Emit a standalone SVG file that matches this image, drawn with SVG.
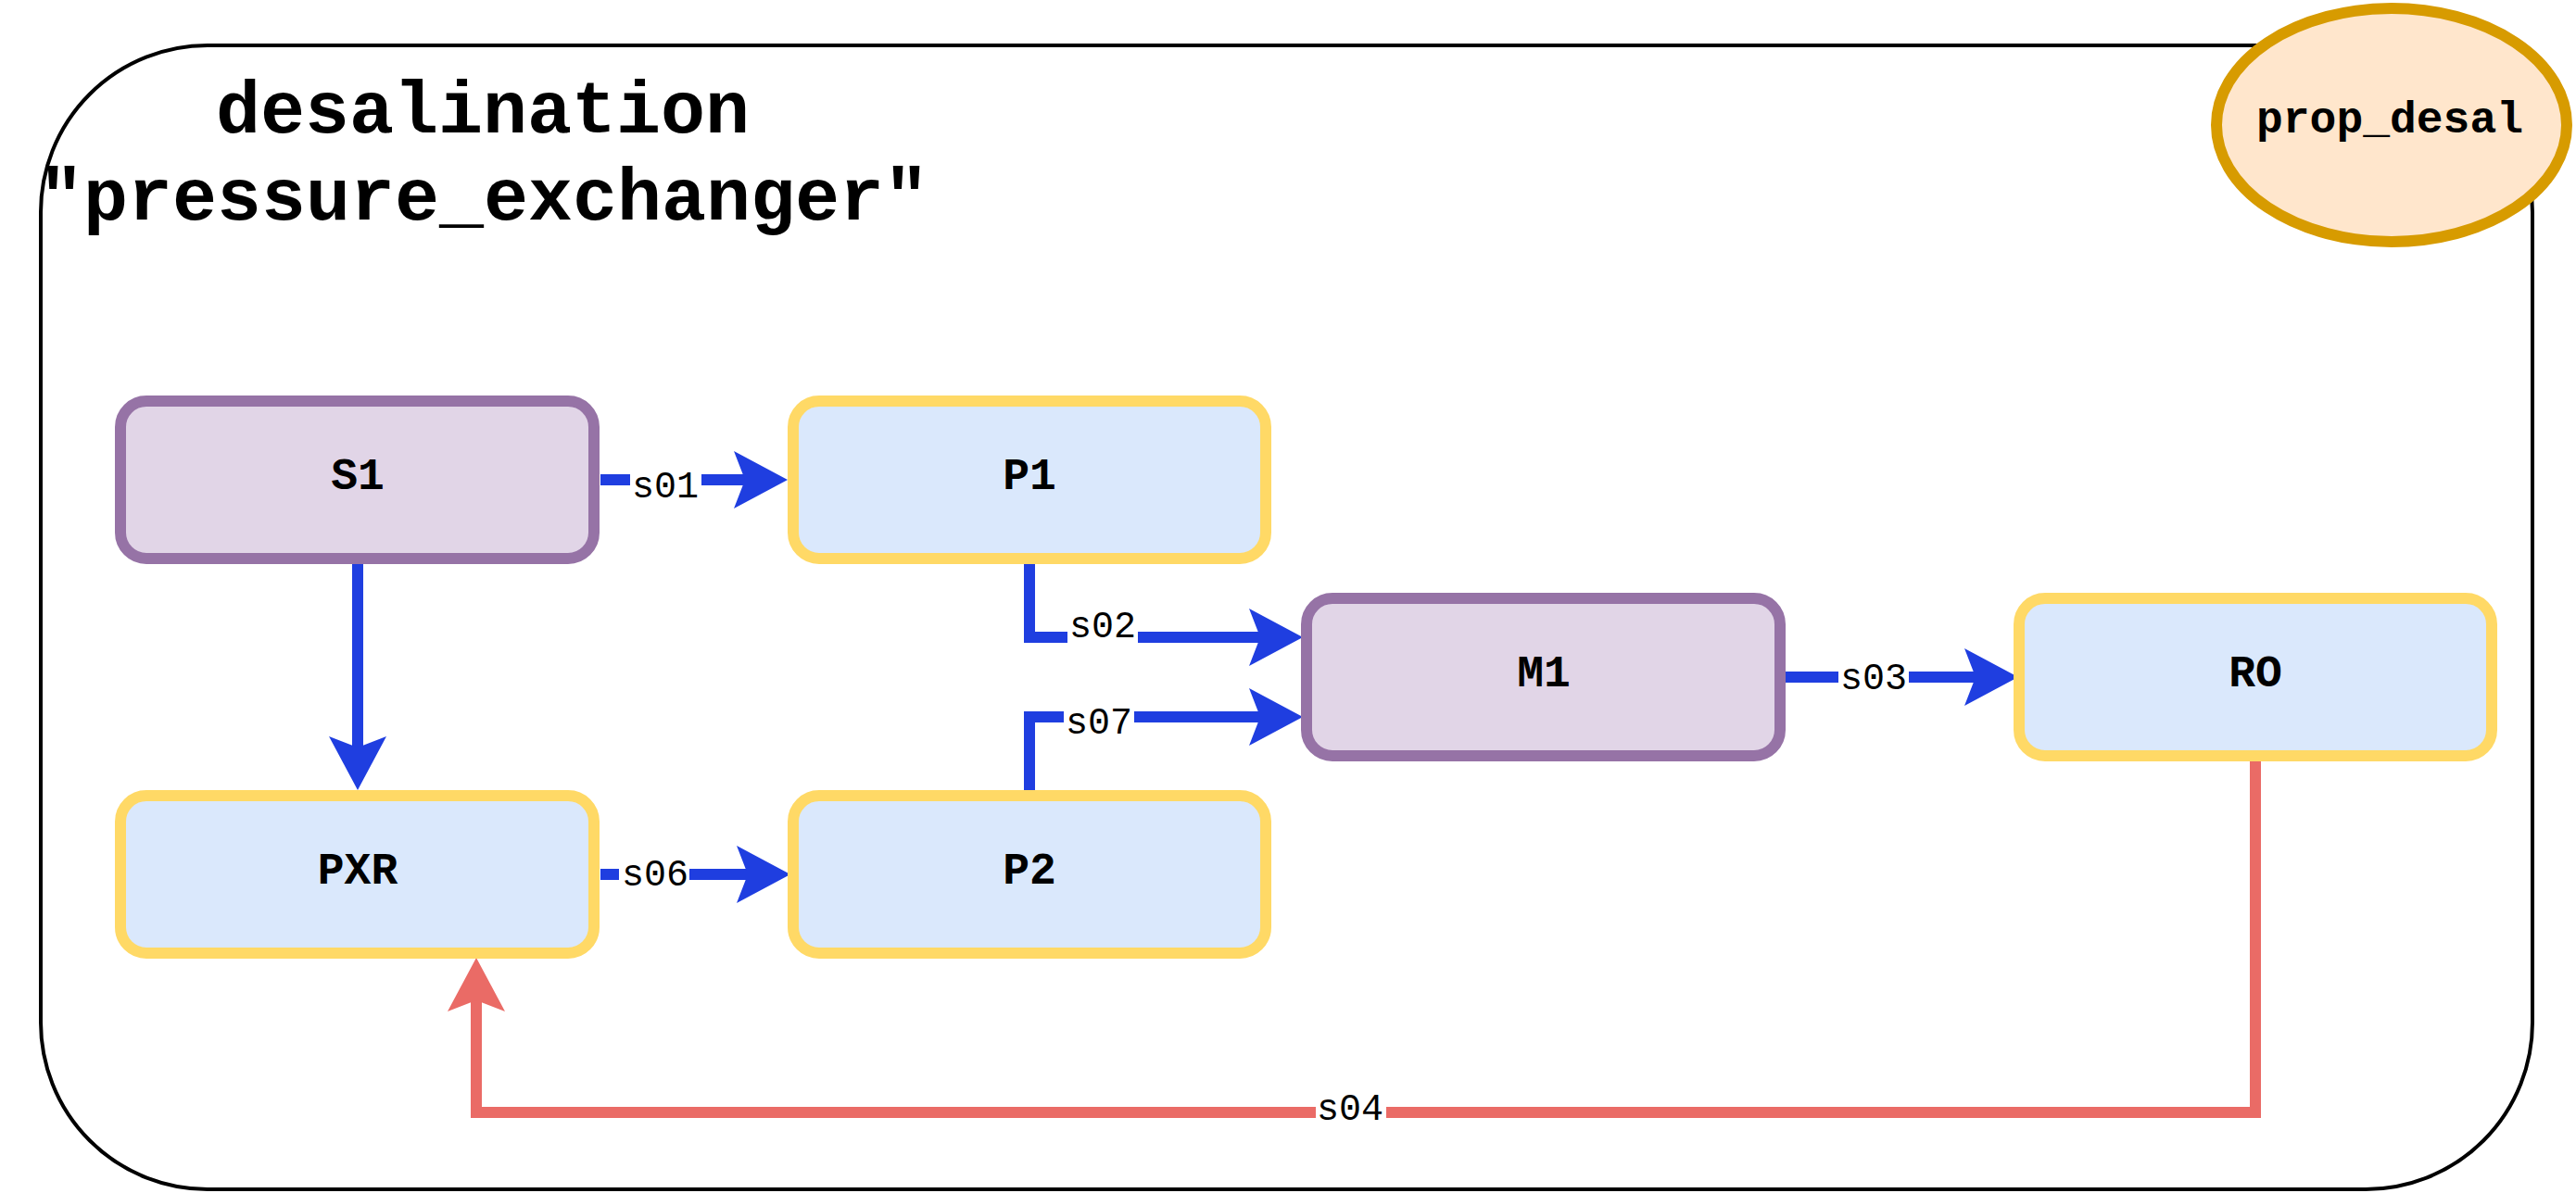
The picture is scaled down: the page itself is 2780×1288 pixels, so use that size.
<svg xmlns="http://www.w3.org/2000/svg" width="2780" height="1288" viewBox="0 0 2780 1288">
<style>
.bg{fill:#ffffff}
.container{fill:#ffffff;stroke:#000000;stroke-width:4}
.title{font-family:"Liberation Mono","Courier New",monospace;font-weight:bold;font-size:80px;fill:#000000;text-anchor:middle}
.proc{fill:#dae8fc;stroke:#ffd966;stroke-width:12}
.src{fill:#e1d5e7;stroke:#9673a6;stroke-width:12}
.prop{fill:#ffe6cc;stroke:#d79b00;stroke-width:12}
.nlabel{font-family:"Liberation Mono","Courier New",monospace;font-weight:bold;font-size:48px;fill:#000000;text-anchor:middle}
.blue{fill:none;stroke:#1f3ee0;stroke-width:12;stroke-linejoin:miter}
.red{fill:none;stroke:#ea6b66;stroke-width:12;stroke-linejoin:miter}
.lbg{fill:#ffffff}
.elabel{font-family:"Liberation Mono","Courier New",monospace;font-size:40px;fill:#000000;text-anchor:middle}
</style>
<defs>
<marker id="arrBlue" markerUnits="userSpaceOnUse" viewBox="0 -32 60 64" markerWidth="60" markerHeight="64" refX="12" refY="0" orient="auto" overflow="visible">
<path d="M0,-31 L58,0 L0,31 L12,0 Z" fill="#1f3ee0"/>
</marker>
<marker id="arrRed" markerUnits="userSpaceOnUse" viewBox="0 -32 60 64" markerWidth="60" markerHeight="64" refX="12" refY="0" orient="auto" overflow="visible">
<path d="M0,-31 L58,0 L0,31 L12,0 Z" fill="#ea6b66"/>
</marker>
</defs>
<rect class="bg" x="0" y="0" width="2780" height="1288"/>
<g id="desalination">
<rect class="container" x="44" y="49" width="2689" height="1235" rx="180" ry="180"/>
<text class="title" x="521" y="143">desalination</text>
<text class="title" x="522" y="237">"pressure_exchanger"</text>
</g>
<g id="connectors">
<path class="blue" d="M648,518 H804" marker-end="url(#arrBlue)"/>
<rect class="lbg" x="680" y="503" width="77" height="40"/>
<text class="elabel" x="718" y="537">s01</text>
<path class="blue" d="M386,609 V807" marker-end="url(#arrBlue)"/>
<path class="blue" d="M1111,608 V688 H1360" marker-end="url(#arrBlue)"/>
<rect class="lbg" x="1152" y="654" width="76" height="40"/>
<text class="elabel" x="1190" y="688">s02</text>
<path class="blue" d="M1111,853 V774 H1360" marker-end="url(#arrBlue)"/>
<rect class="lbg" x="1148" y="758" width="76" height="40"/>
<text class="elabel" x="1186" y="792">s07</text>
<path class="blue" d="M1927,731 H2132" marker-end="url(#arrBlue)"/>
<rect class="lbg" x="1984" y="710" width="76" height="40"/>
<text class="elabel" x="2022" y="744">s03</text>
<path class="red" d="M2434,822 V1201 H514 V1080" marker-end="url(#arrRed)"/>
<rect class="lbg" x="1420" y="1175" width="76" height="40"/>
<text class="elabel" x="1457" y="1209">s04</text>
<path class="blue" d="M648,944 H807" marker-end="url(#arrBlue)"/>
<rect class="lbg" x="668" y="922" width="76" height="40"/>
<text class="elabel" x="707" y="956">s06</text>
</g>
<g id="S1">
<rect class="src" x="130" y="433" width="511" height="170" rx="28" ry="28"/>
<text class="nlabel" x="386" y="528">S1</text>
</g>
<g id="P1">
<rect class="proc" x="856" y="433" width="510" height="170" rx="28" ry="28"/>
<text class="nlabel" x="1111" y="528">P1</text>
</g>
<g id="PXR">
<rect class="proc" x="130" y="859" width="511" height="170" rx="28" ry="28"/>
<text class="nlabel" x="386" y="954">PXR</text>
</g>
<g id="P2">
<rect class="proc" x="856" y="859" width="510" height="170" rx="28" ry="28"/>
<text class="nlabel" x="1111" y="954">P2</text>
</g>
<g id="M1">
<rect class="src" x="1410" y="646" width="511" height="170" rx="28" ry="28"/>
<text class="nlabel" x="1666" y="741">M1</text>
</g>
<g id="RO">
<rect class="proc" x="2179" y="646" width="510" height="170" rx="28" ry="28"/>
<text class="nlabel" x="2434" y="741">RO</text>
</g>
<g id="prop_desal">
<ellipse class="prop" cx="2581" cy="135" rx="189" ry="126"/>
<text class="nlabel" x="2579" y="143">prop_desal</text>
</g>
</svg>
